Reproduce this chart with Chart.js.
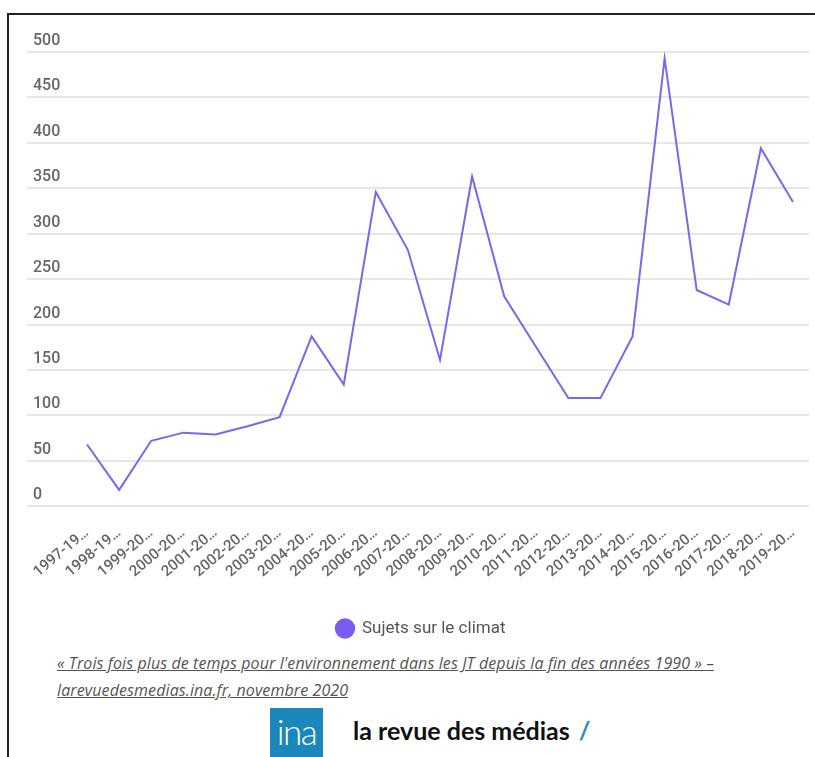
<!DOCTYPE html>
<html lang="fr">
<head>
<meta charset="utf-8">
<script src="https://cdn.jsdelivr.net/npm/chart.js@4"></script>
<style>
  body { margin: 0; background: #fff; width: 815px; height: 757px; overflow: hidden; position: relative; font-family: Roboto, sans-serif; }
  #frame { position: absolute; left: 7px; top: 13px; width: 830px; height: 780px; border-left: 2px solid #222; border-top: 2px solid #222; }
  #wrap { position: absolute; left: 0; top: 0; width: 815px; height: 647px; }
  #source { position: absolute; left: 57px; top: 650px; width: 700px; font: italic 16px "Open Sans", sans-serif; letter-spacing: 0.1px; line-height: 27px; color: #555; }
  #source span { text-decoration: underline; }
  #logo { position: absolute; left: 270px; top: 708px; height: 50px; }
  #ina { position: absolute; left: 0; top: 0; width: 53px; height: 52px; background: #1b87bb; color: #fff; font: 300 35px Lato, sans-serif; letter-spacing: -1.5px; text-align: center; line-height: 46px; }
  #title { position: absolute; left: 83px; top: 7px; white-space: nowrap; font: 700 25px Lato, sans-serif; color: #111; }
  #slash { color: #2a8fc0; margin-left: 9px; }
</style>
</head>
<body>
<div id="frame"></div>
<div id="wrap"><canvas id="chart"></canvas></div>
<div id="source"><span>« Trois fois plus de temps pour l'environnement dans les JT depuis la fin des années 1990 » – larevuedesmedias.ina.fr, novembre 2020</span></div>
<div id="logo">
  <div id="ina">ina</div>
  <div id="title">la revue des médias<span id="slash">/</span></div>
</div>
<script>
// seasons shown on the x axis (labels are cut in the original)
const seasons = [
  "1997-1998", "1998-1999", "1999-2000", "2000-2001", "2001-2002", "2002-2003",
  "2003-2004", "2004-2005", "2005-2006", "2006-2007", "2007-2008", "2008-2009",
  "2009-2010", "2010-2011", "2011-2012", "2012-2013", "2013-2014", "2014-2015",
  "2015-2016", "2016-2017", "2017-2018", "2018-2019", "2019-2020"
];

// number of climate stories per season
const sujetsClimat = [68, 18, 72, 81, 79, 88, 98, 187, 134, 346, 282, 161,
  363, 231, 175, 119, 119, 187, 493, 238, 222, 394, 335];

const yTicks = [0, 50, 100, 150, 200, 250, 300, 350, 400, 450, 500];

const purple = '#7b66ee';

new Chart(document.getElementById('chart'), {
  type: 'line',
  data: {
    labels: seasons,
    datasets: [{
      label: 'Sujets sur le climat',
      data: sujetsClimat,
      borderColor: purple,
      backgroundColor: '#7b5cf2',
      pointBackgroundColor: '#7b5cf2',
      pointBorderColor: '#7b5cf2',
      borderWidth: 2,
      pointRadius: 0,
      tension: 0
    }]
  },
  options: {
    responsive: true,
    maintainAspectRatio: false,
    animation: false,
    layout: { padding: { left: 33, right: 6, top: 52, bottom: 0 } },
    plugins: {
      tooltip: { enabled: false },
      legend: {
        position: 'bottom',
        labels: {
          usePointStyle: true,
          pointStyle: 'circle',
          boxHeight: 13,
          boxWidth: 17,
          padding: 29,
          color: '#555',
          font: { family: 'Roboto', size: 17 }
        }
      }
    },
    scales: {
      x: {
        offset: true,
        grid: { display: false },
        border: { display: false },
        ticks: {
          minRotation: 40,
          maxRotation: 40,
          autoSkip: false,
          padding: 10,
          color: '#666',
          font: { family: 'Roboto', size: 15, weight: 500 },
          callback: function (val) {
            let s = this.getLabelForValue(val);
            return s.slice(0, 7) + '…';
          }
        }
      },
      y: {
        min: 0,
        max: 500,
        afterBuildTicks: function (axis) {
          axis.ticks = yTicks.map(v => ({ value: v }));
        },
        afterFit: function (axis) {
          axis.width = 38;
        },
        grid: { color: '#e6e6e6', lineWidth: 2, tickLength: 44 },
        border: { display: false },
        ticks: {
          crossAlign: 'far',
          labelOffset: -11,
          padding: 0,
          color: '#666',
          font: { family: 'Roboto', size: 16, weight: 500 }
        }
      }
    }
  }
});
</script>
</body>
</html>
